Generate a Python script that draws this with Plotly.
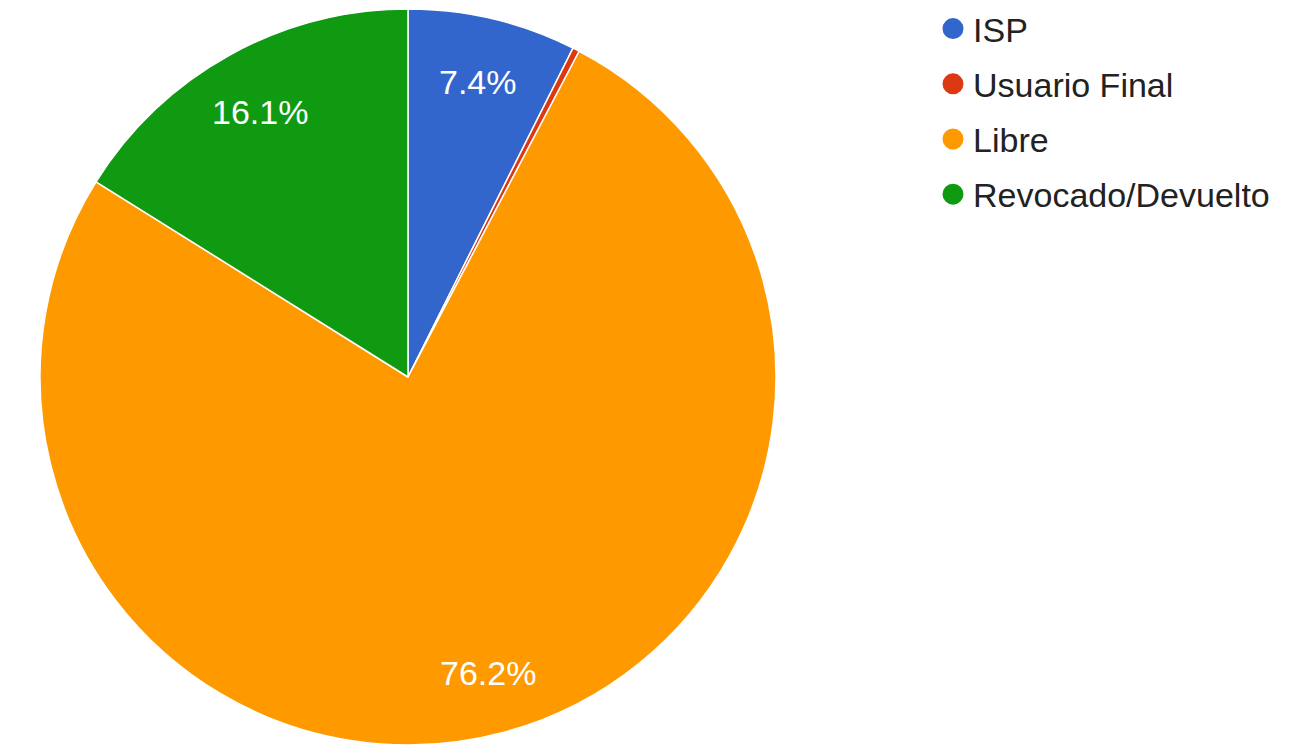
import math
import plotly.graph_objects as go

labels = ["ISP", "Usuario Final", "Libre", "Revocado/Devuelto"]
values = [7.4, 0.3, 76.2, 16.1]
colors = ["#3366cc", "#dc3912", "#ff9900", "#0f9a12"]
show_label = [True, False, True, True]

W, H = 1306, 745
cx, cy, r = 408, 377, 368
label_r = 305  # px from centre where slice labels sit

fig = go.Figure()
fig.add_trace(go.Pie(
    labels=labels, values=values, sort=False, direction="clockwise", rotation=0,
    marker=dict(colors=colors, line=dict(color="white", width=1.5)),
    textinfo="none", showlegend=False, hoverinfo="label+percent",
    domain=dict(x=[(cx - r) / W, (cx + r) / W],
                y=[max(0.0, (H - cy - r) / H), min(1.0, (H - cy + r) / H)]),
))

# slice percentage labels placed along each slice's mid-angle
total = sum(values)
cum = 0.0
for lab, v, s in zip(labels, values, show_label):
    mid = (cum + v / 2) / total * 2 * math.pi
    cum += v
    if not s:
        continue
    px = cx + label_r * math.sin(mid)
    py = cy - label_r * math.cos(mid) + 2
    fig.add_annotation(x=px / W, y=1 - py / H, xref="paper", yref="paper",
                       xanchor="center", yanchor="middle",
                       text=f"{v / total * 100:.1f}%", showarrow=False,
                       font=dict(family="Liberation Sans, Arial", size=34, color="white"))

for lab, col in zip(labels, colors):
    fig.add_trace(go.Scatter(x=[None], y=[None], mode="markers", name=lab,
                             legendgroup=lab,
                             marker=dict(color=col, size=16, symbol="circle",
                                         line=dict(color=col, width=5))))

fig.update_layout(
    width=W, height=H, margin=dict(l=0, r=0, t=0, b=0),
    paper_bgcolor="white", plot_bgcolor="white",
    xaxis=dict(visible=False), yaxis=dict(visible=False),
    legend=dict(x=0.7144, y=1.0, xanchor="left", yanchor="top",
                font=dict(family="Liberation Sans, Arial", size=34, color="#222222"),
                traceorder="grouped", tracegroupgap=8, itemsizing="trace"),
)
fig.write_html("out.html", config={"displayModeBar": False},
               post_script="document.body.style.margin='0';document.body.style.overflow='hidden';")
